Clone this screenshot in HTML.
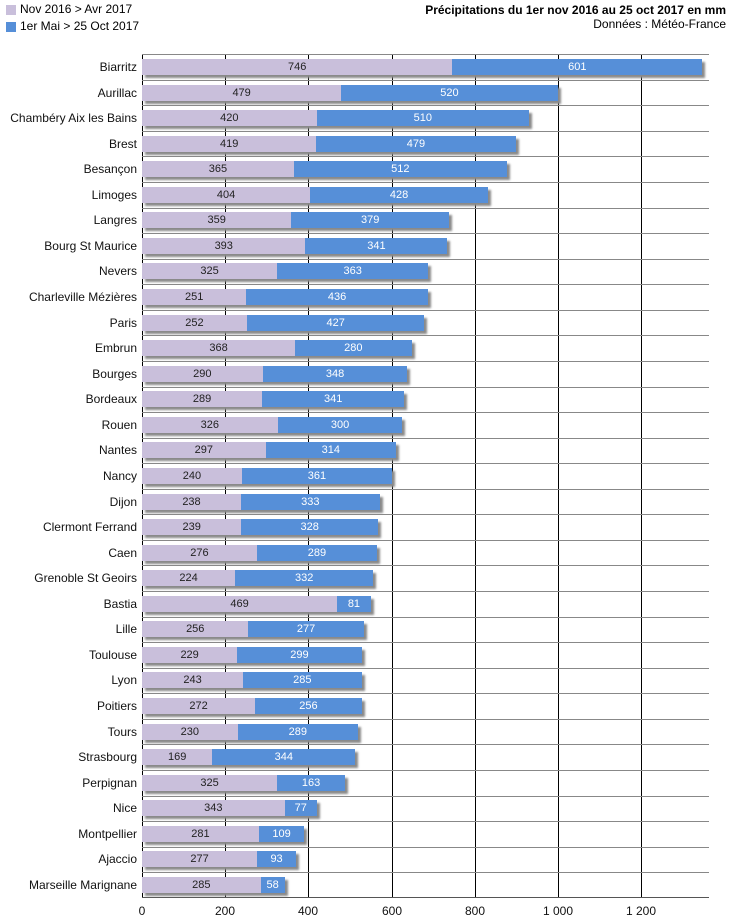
<!DOCTYPE html>
<html><head><meta charset="utf-8"><style>
body{margin:0;width:730px;height:922px;background:#fff;position:relative;font-family:"Liberation Sans",Verdana,sans-serif;overflow:hidden}
.a{position:absolute}
.vl{position:absolute;top:54px;height:844px;width:1px;background:#000}
.hl{position:absolute;left:142px;width:567px;height:1px;background:#888}
.row{position:absolute;left:142px;height:16px;display:flex;box-shadow:3px 3px 2px #8a8a8a}
.p{background:#c9bfdb;color:#222;font-size:11px;display:flex;align-items:center;justify-content:center;height:16px}
.b{background:#568fd8;color:#fff;font-size:11px;display:flex;align-items:center;justify-content:center;height:16px}
.lab{position:absolute;right:593px;font-size:12px;color:#111;white-space:nowrap;line-height:16px}
.tk{position:absolute;top:904px;font-size:12px;width:60px;text-align:center;color:#111}
</style></head><body>
<div class="a" style="left:6px;top:5px;width:10px;height:10px;background:#c9bfdb"></div>
<div class="a" style="left:20px;top:2px;font-size:12px">Nov 2016 &gt; Avr 2017</div>
<div class="a" style="left:6px;top:22px;width:10px;height:10px;background:#568fd8"></div>
<div class="a" style="left:20px;top:19px;font-size:12px">1er Mai &gt; 25 Oct 2017</div>
<div class="a" style="right:4px;top:3px;font-size:12px;font-weight:bold">Précipitations du 1er nov 2016 au 25 oct 2017 en mm</div>
<div class="a" style="right:4px;top:17px;font-size:12px">Données : Météo-France</div>

<div class="vl" style="left:142px"></div>
<div class="vl" style="left:225px"></div>
<div class="vl" style="left:308px"></div>
<div class="vl" style="left:392px"></div>
<div class="vl" style="left:475px"></div>
<div class="vl" style="left:558px"></div>
<div class="vl" style="left:641px"></div>
<div class="hl" style="top:54px"></div>
<div class="hl" style="top:80px"></div><div class="hl" style="top:105px"></div><div class="hl" style="top:131px"></div><div class="hl" style="top:156px"></div><div class="hl" style="top:182px"></div><div class="hl" style="top:208px"></div><div class="hl" style="top:233px"></div><div class="hl" style="top:259px"></div><div class="hl" style="top:284px"></div><div class="hl" style="top:310px"></div><div class="hl" style="top:335px"></div><div class="hl" style="top:361px"></div><div class="hl" style="top:387px"></div><div class="hl" style="top:412px"></div><div class="hl" style="top:438px"></div><div class="hl" style="top:463px"></div><div class="hl" style="top:489px"></div><div class="hl" style="top:514px"></div><div class="hl" style="top:540px"></div><div class="hl" style="top:565px"></div><div class="hl" style="top:591px"></div><div class="hl" style="top:617px"></div><div class="hl" style="top:642px"></div><div class="hl" style="top:668px"></div><div class="hl" style="top:693px"></div><div class="hl" style="top:719px"></div><div class="hl" style="top:744px"></div><div class="hl" style="top:770px"></div><div class="hl" style="top:796px"></div><div class="hl" style="top:821px"></div><div class="hl" style="top:847px"></div><div class="hl" style="top:872px"></div>
<div class="hl" style="top:897px;background:#555"></div>

<div class="row" style="top:calc(59px + 25.56px*0)"><div class="p" style="width:calc(746px*0.416)">746</div><div class="b" style="width:calc(601px*0.416)">601</div></div><div class="lab" style="top:calc(59px + 25.56px*0)">Biarritz</div>
<div class="row" style="top:calc(59px + 25.56px*1)"><div class="p" style="width:calc(479px*0.416)">479</div><div class="b" style="width:calc(520px*0.416)">520</div></div><div class="lab" style="top:calc(59px + 25.56px*1)">Aurillac</div>
<div class="row" style="top:calc(59px + 25.56px*2)"><div class="p" style="width:calc(420px*0.416)">420</div><div class="b" style="width:calc(510px*0.416)">510</div></div><div class="lab" style="top:calc(59px + 25.56px*2)">Chambéry Aix les Bains</div>
<div class="row" style="top:calc(59px + 25.56px*3)"><div class="p" style="width:calc(419px*0.416)">419</div><div class="b" style="width:calc(479px*0.416)">479</div></div><div class="lab" style="top:calc(59px + 25.56px*3)">Brest</div>
<div class="row" style="top:calc(59px + 25.56px*4)"><div class="p" style="width:calc(365px*0.416)">365</div><div class="b" style="width:calc(512px*0.416)">512</div></div><div class="lab" style="top:calc(59px + 25.56px*4)">Besançon</div>
<div class="row" style="top:calc(59px + 25.56px*5)"><div class="p" style="width:calc(404px*0.416)">404</div><div class="b" style="width:calc(428px*0.416)">428</div></div><div class="lab" style="top:calc(59px + 25.56px*5)">Limoges</div>
<div class="row" style="top:calc(59px + 25.56px*6)"><div class="p" style="width:calc(359px*0.416)">359</div><div class="b" style="width:calc(379px*0.416)">379</div></div><div class="lab" style="top:calc(59px + 25.56px*6)">Langres</div>
<div class="row" style="top:calc(59px + 25.56px*7)"><div class="p" style="width:calc(393px*0.416)">393</div><div class="b" style="width:calc(341px*0.416)">341</div></div><div class="lab" style="top:calc(59px + 25.56px*7)">Bourg St Maurice</div>
<div class="row" style="top:calc(59px + 25.56px*8)"><div class="p" style="width:calc(325px*0.416)">325</div><div class="b" style="width:calc(363px*0.416)">363</div></div><div class="lab" style="top:calc(59px + 25.56px*8)">Nevers</div>
<div class="row" style="top:calc(59px + 25.56px*9)"><div class="p" style="width:calc(251px*0.416)">251</div><div class="b" style="width:calc(436px*0.416)">436</div></div><div class="lab" style="top:calc(59px + 25.56px*9)">Charleville Mézières</div>
<div class="row" style="top:calc(59px + 25.56px*10)"><div class="p" style="width:calc(252px*0.416)">252</div><div class="b" style="width:calc(427px*0.416)">427</div></div><div class="lab" style="top:calc(59px + 25.56px*10)">Paris</div>
<div class="row" style="top:calc(59px + 25.56px*11)"><div class="p" style="width:calc(368px*0.416)">368</div><div class="b" style="width:calc(280px*0.416)">280</div></div><div class="lab" style="top:calc(59px + 25.56px*11)">Embrun</div>
<div class="row" style="top:calc(59px + 25.56px*12)"><div class="p" style="width:calc(290px*0.416)">290</div><div class="b" style="width:calc(348px*0.416)">348</div></div><div class="lab" style="top:calc(59px + 25.56px*12)">Bourges</div>
<div class="row" style="top:calc(59px + 25.56px*13)"><div class="p" style="width:calc(289px*0.416)">289</div><div class="b" style="width:calc(341px*0.416)">341</div></div><div class="lab" style="top:calc(59px + 25.56px*13)">Bordeaux</div>
<div class="row" style="top:calc(59px + 25.56px*14)"><div class="p" style="width:calc(326px*0.416)">326</div><div class="b" style="width:calc(300px*0.416)">300</div></div><div class="lab" style="top:calc(59px + 25.56px*14)">Rouen</div>
<div class="row" style="top:calc(59px + 25.56px*15)"><div class="p" style="width:calc(297px*0.416)">297</div><div class="b" style="width:calc(314px*0.416)">314</div></div><div class="lab" style="top:calc(59px + 25.56px*15)">Nantes</div>
<div class="row" style="top:calc(59px + 25.56px*16)"><div class="p" style="width:calc(240px*0.416)">240</div><div class="b" style="width:calc(361px*0.416)">361</div></div><div class="lab" style="top:calc(59px + 25.56px*16)">Nancy</div>
<div class="row" style="top:calc(59px + 25.56px*17)"><div class="p" style="width:calc(238px*0.416)">238</div><div class="b" style="width:calc(333px*0.416)">333</div></div><div class="lab" style="top:calc(59px + 25.56px*17)">Dijon</div>
<div class="row" style="top:calc(59px + 25.56px*18)"><div class="p" style="width:calc(239px*0.416)">239</div><div class="b" style="width:calc(328px*0.416)">328</div></div><div class="lab" style="top:calc(59px + 25.56px*18)">Clermont Ferrand</div>
<div class="row" style="top:calc(59px + 25.56px*19)"><div class="p" style="width:calc(276px*0.416)">276</div><div class="b" style="width:calc(289px*0.416)">289</div></div><div class="lab" style="top:calc(59px + 25.56px*19)">Caen</div>
<div class="row" style="top:calc(59px + 25.56px*20)"><div class="p" style="width:calc(224px*0.416)">224</div><div class="b" style="width:calc(332px*0.416)">332</div></div><div class="lab" style="top:calc(59px + 25.56px*20)">Grenoble St Geoirs</div>
<div class="row" style="top:calc(59px + 25.56px*21)"><div class="p" style="width:calc(469px*0.416)">469</div><div class="b" style="width:calc(81px*0.416)">81</div></div><div class="lab" style="top:calc(59px + 25.56px*21)">Bastia</div>
<div class="row" style="top:calc(59px + 25.56px*22)"><div class="p" style="width:calc(256px*0.416)">256</div><div class="b" style="width:calc(277px*0.416)">277</div></div><div class="lab" style="top:calc(59px + 25.56px*22)">Lille</div>
<div class="row" style="top:calc(59px + 25.56px*23)"><div class="p" style="width:calc(229px*0.416)">229</div><div class="b" style="width:calc(299px*0.416)">299</div></div><div class="lab" style="top:calc(59px + 25.56px*23)">Toulouse</div>
<div class="row" style="top:calc(59px + 25.56px*24)"><div class="p" style="width:calc(243px*0.416)">243</div><div class="b" style="width:calc(285px*0.416)">285</div></div><div class="lab" style="top:calc(59px + 25.56px*24)">Lyon</div>
<div class="row" style="top:calc(59px + 25.56px*25)"><div class="p" style="width:calc(272px*0.416)">272</div><div class="b" style="width:calc(256px*0.416)">256</div></div><div class="lab" style="top:calc(59px + 25.56px*25)">Poitiers</div>
<div class="row" style="top:calc(59px + 25.56px*26)"><div class="p" style="width:calc(230px*0.416)">230</div><div class="b" style="width:calc(289px*0.416)">289</div></div><div class="lab" style="top:calc(59px + 25.56px*26)">Tours</div>
<div class="row" style="top:calc(59px + 25.56px*27)"><div class="p" style="width:calc(169px*0.416)">169</div><div class="b" style="width:calc(344px*0.416)">344</div></div><div class="lab" style="top:calc(59px + 25.56px*27)">Strasbourg</div>
<div class="row" style="top:calc(59px + 25.56px*28)"><div class="p" style="width:calc(325px*0.416)">325</div><div class="b" style="width:calc(163px*0.416)">163</div></div><div class="lab" style="top:calc(59px + 25.56px*28)">Perpignan</div>
<div class="row" style="top:calc(59px + 25.56px*29)"><div class="p" style="width:calc(343px*0.416)">343</div><div class="b" style="width:calc(77px*0.416)">77</div></div><div class="lab" style="top:calc(59px + 25.56px*29)">Nice</div>
<div class="row" style="top:calc(59px + 25.56px*30)"><div class="p" style="width:calc(281px*0.416)">281</div><div class="b" style="width:calc(109px*0.416)">109</div></div><div class="lab" style="top:calc(59px + 25.56px*30)">Montpellier</div>
<div class="row" style="top:calc(59px + 25.56px*31)"><div class="p" style="width:calc(277px*0.416)">277</div><div class="b" style="width:calc(93px*0.416)">93</div></div><div class="lab" style="top:calc(59px + 25.56px*31)">Ajaccio</div>
<div class="row" style="top:calc(59px + 25.56px*32)"><div class="p" style="width:calc(285px*0.416)">285</div><div class="b" style="width:calc(58px*0.416)">58</div></div><div class="lab" style="top:calc(59px + 25.56px*32)">Marseille Marignane</div>

<div class="tk" style="left:112px">0</div>
<div class="tk" style="left:195px">200</div>
<div class="tk" style="left:278px">400</div>
<div class="tk" style="left:362px">600</div>
<div class="tk" style="left:445px">800</div>
<div class="tk" style="left:528px">1 000</div>
<div class="tk" style="left:611px">1 200</div>
</body></html>
